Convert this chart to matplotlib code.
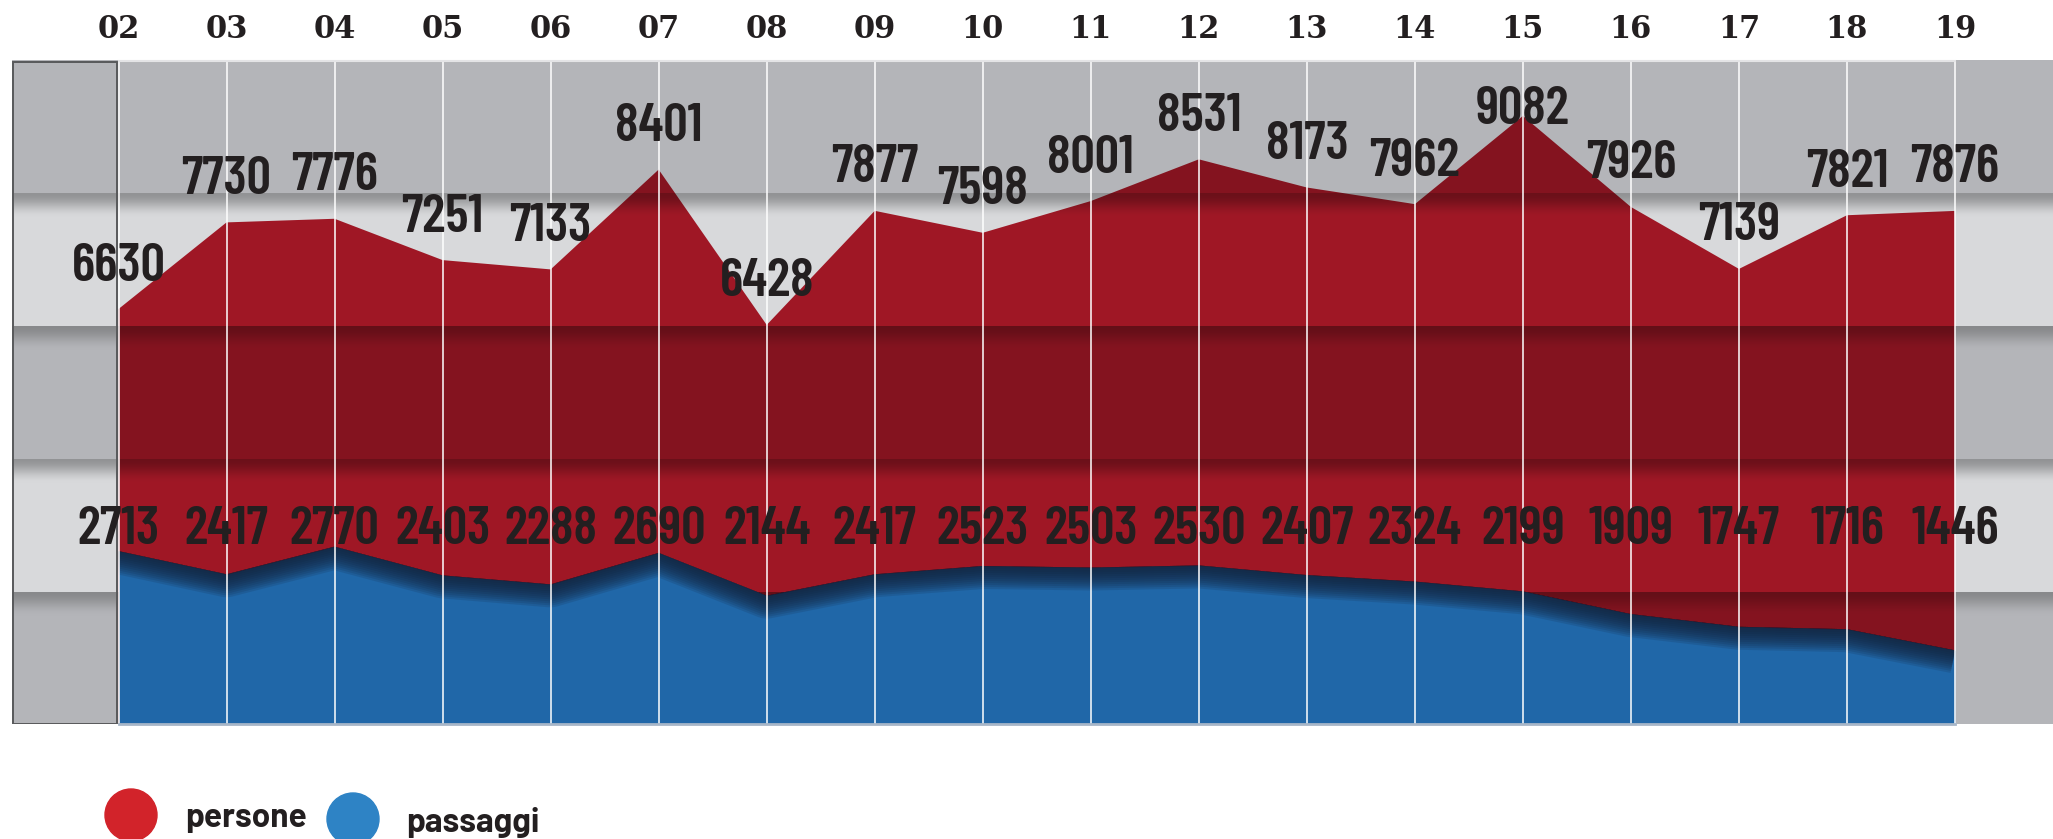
import numpy as np
import matplotlib
matplotlib.use('Agg')
import matplotlib.pyplot as plt
import matplotlib.transforms as mtransforms
from matplotlib.patches import Ellipse, Rectangle

# ---- data ----
years = [2, 3, 4, 5, 6, 7, 8, 9, 10, 11, 12, 13, 14, 15, 16, 17, 18, 19]
year_labels = ['02', '03', '04', '05', '06', '07', '08', '09', '10',
               '11', '12', '13', '14', '15', '16', '17', '18', '19']
persone = [6630, 7730, 7776, 7251, 7133, 8401, 6428, 7877, 7598,
           8001, 8531, 8173, 7962, 9082, 7926, 7139, 7821, 7876]
passaggi = [2713, 2417, 2770, 2403, 2288, 2690, 2144, 2417, 2523,
            2503, 2530, 2407, 2324, 2199, 1909, 1747, 1716, 1446]

# compressed y axis (the gap between the two series is squeezed)
scale_values = [-50000, 500, 3000, 6000, 9786, 60000]
scale_pos = [-5.959, 0.0, 0.295, 0.551, 1.0, 6.955]
Y_MIN, Y_MAX = 500, 9786
X_MIN, X_MAX = 1.014, 19.907

TXT = '#231f20'
NUM_FONT = ['Barlow Condensed', 'DejaVu Sans']


def fwd(v):
    return np.interp(v, scale_values, scale_pos)


def inv(p):
    return np.interp(p, scale_pos, scale_values)


fig = plt.figure(figsize=(20.53, 8.39), dpi=100)
ax = fig.add_axes([12 / 2053, 0.1365, 1 - 12 / 2053, 0.7914])
ax.set_yscale('function', functions=(fwd, inv))

# ===== background: 5 grey bands with a shaded top edge =====
H = 664
rows = np.arange(H)
band_h = H / 5
band = np.minimum((rows // band_h).astype(int), 4)
d = rows - band * band_h
light = np.array([216, 217, 219]) / 255
dark = np.array([180, 181, 185]) / 255
edge_light = np.array([146, 147, 149]) / 255
edge_dark = np.array([136, 137, 139]) / 255
is_light = (band % 2 == 1)[:, None]
base = np.where(is_light, light, dark)
edge = np.where(is_light, edge_light, edge_dark)
t = np.clip(d / 24, 0, 1)
f = t * t * (3 - 2 * t)
col = edge + (base - edge) * f[:, None]
col[band == 0] = dark
bg = np.repeat(col[:, None, :], 2, axis=1)

ax.imshow(bg, extent=(0, 1, 0, 1), transform=ax.transAxes, aspect='auto',
          interpolation='nearest', zorder=0)

# ===== persone (red, multiplied on the bands) =====
red_mult = np.array([188, 28, 44]) / 255
red_img = bg * red_mult
red_poly = ax.fill_between(years, Y_MIN, persone, color='none', lw=0)
red_im = ax.imshow(red_img, extent=(0, 1, 0, 1), transform=ax.transAxes,
                   aspect='auto', interpolation='nearest', zorder=1)
red_im.set_clip_path(red_poly.get_paths()[0], ax.transData)

# ===== passaggi (blue with dark shadow under the edge) =====
blue_poly = ax.fill_between(years, Y_MIN, passaggi, color='#2067a8', lw=0, zorder=2)
blue_path = blue_poly.get_paths()[0]
for w in np.linspace(2, 46, 12):
    ln, = ax.plot(years, passaggi, color='#13233b', lw=w * 0.72, alpha=0.15,
                  solid_joinstyle='round', solid_capstyle='butt', zorder=3)
    ln.set_clip_path(blue_path, ax.transData)

# ===== grid lines and frame =====
trans = mtransforms.blended_transform_factory(ax.transData, ax.transAxes)
for x in years:
    ax.axvline(x, color='white', lw=1.1, zorder=4)
x02 = (years[0] - X_MIN) / (X_MAX - X_MIN)
ax.add_patch(Rectangle((0.0005, 0.001), x02 - 0.0012, 0.997, transform=ax.transAxes,
                       facecolor='none', edgecolor='#58595b', lw=1.4, zorder=5))
ax.plot([years[0], years[-1]], [0.999, 0.999], color='#e4e4e6', lw=1.5,
        transform=trans, clip_on=False, zorder=5)
ax.plot([years[0], years[-1]], [0.001, 0.001], color='#a7b6c8', lw=2,
        transform=trans, clip_on=False, zorder=5)

# ===== value labels =====
p_frac = np.minimum(fwd(np.array(persone)) + 0.064, 0.925)
for x, v, yf in zip(years, persone, p_frac):
    ax.text(x, yf, str(v), transform=trans, ha='center', va='center',
            family=NUM_FONT, fontweight=600, fontsize=39, color=TXT, zorder=6)
for x, v in zip(years, passaggi):
    ax.text(x, 0.293, str(v), transform=trans, ha='center', va='center',
            family=NUM_FONT, fontweight=600, fontsize=39, color=TXT, zorder=6)

# year labels on top
for x, lab in zip(years, year_labels):
    ax.text(x, 1.047, lab, transform=trans, ha='center', va='center',
            family='DejaVu Serif', fontweight='bold', fontsize=22, color=TXT,
            clip_on=False)

ax.set_xlim(X_MIN, X_MAX)
ax.set_ylim(Y_MIN, Y_MAX)
ax.set_xticks([])
ax.set_yticks([])
ax.yaxis.set_minor_locator(matplotlib.ticker.NullLocator())
ax.tick_params(which='both', length=0)
for s in ax.spines.values():
    s.set_visible(False)

# ===== legend =====
fig.add_artist(Ellipse((131 / 2053, 1 - 815 / 839), 52 / 2053, 52 / 839,
                       transform=fig.transFigure, color='#d2232a'))
fig.add_artist(Ellipse((353 / 2053, 1 - 819 / 839), 52 / 2053, 52 / 839,
                       transform=fig.transFigure, color='#2e83c5'))
fig.text(185 / 2053, 1 - 818 / 839, 'persone', ha='left', va='center',
         family=['Barlow', 'DejaVu Sans'], fontweight='bold', fontsize=24, color=TXT)
fig.text(406 / 2053, 1 - 823 / 839, 'passaggi', ha='left', va='center',
         family=['Barlow', 'DejaVu Sans'], fontweight='bold', fontsize=24, color=TXT)

fig.savefig('out.png', dpi=100)
plt.close(fig)
